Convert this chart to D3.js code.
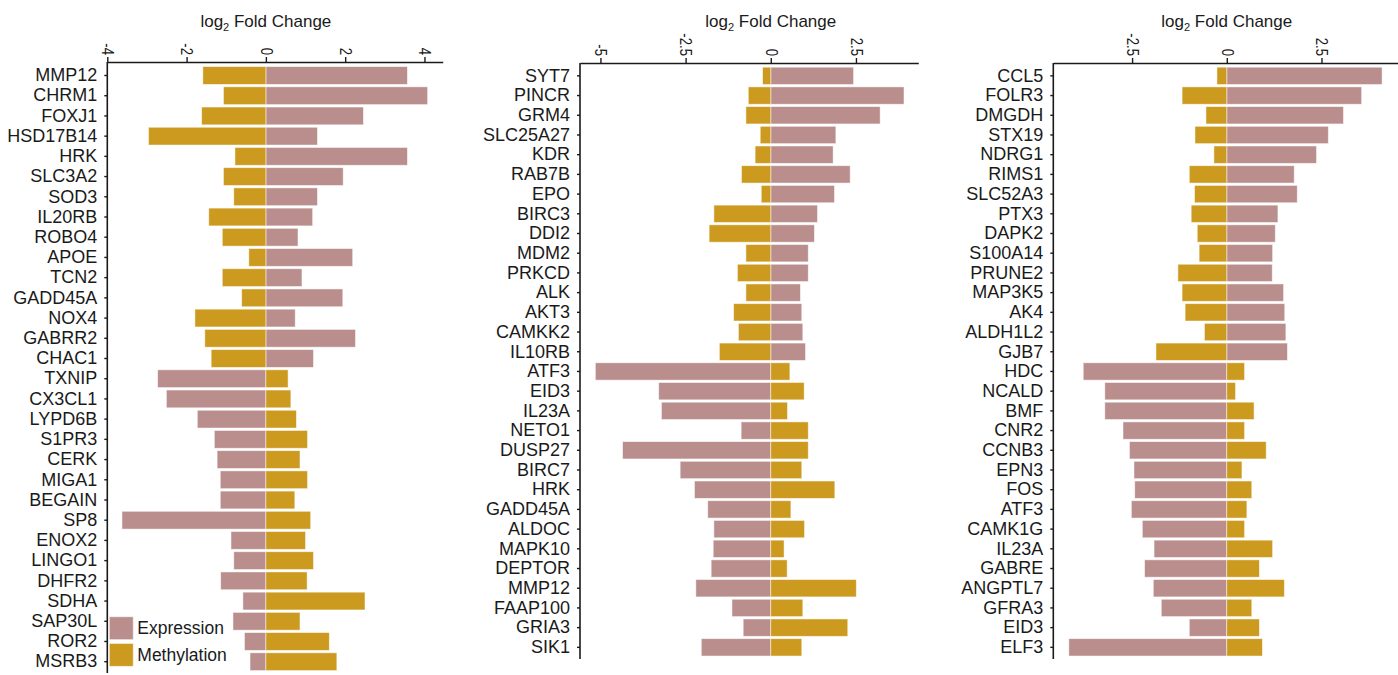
<!DOCTYPE html>
<html>
    <head>
        <meta charset="utf-8">
        <title>log2 Fold Change</title>
        <script type="text/javascript" src="https://cdn.jsdelivr.net/npm/d3@7"></script>
        <style>
            body { margin: 0; background: white; }
            text { font-family: "Liberation Sans", Arial, sans-serif; fill: #1a1a1a; }
        </style>
    </head>
    <body>
        <div class="div_d3"></div>

        <script type="text/javascript">
            // panel 1
            var genes1 = ['MMP12', 'CHRM1', 'FOXJ1', 'HSD17B14', 'HRK', 'SLC3A2', 'SOD3', 'IL20RB', 'ROBO4', 'APOE',
                'TCN2', 'GADD45A', 'NOX4', 'GABRR2', 'CHAC1', 'TXNIP', 'CX3CL1', 'LYPD6B', 'S1PR3', 'CERK',
                'MIGA1', 'BEGAIN', 'SP8', 'ENOX2', 'LINGO1', 'DHFR2', 'SDHA', 'SAP30L', 'ROR2', 'MSRB3'];
            var expr1 = [3.57, 4.08, 2.46, 1.30, 3.57, 1.95, 1.30, 1.18, 0.81, 2.19,
                0.91, 1.94, 0.74, 2.26, 1.20, -2.73, -2.51, -1.73, -1.30, -1.23,
                -1.15, -1.15, -3.63, -0.88, -0.81, -1.14, -0.58, -0.83, -0.54, -0.40];
            var meth1 = [-1.59, -1.07, -1.62, -2.96, -0.78, -1.07, -0.81, -1.44, -1.10, -0.43,
                -1.10, -0.61, -1.79, -1.54, -1.38, 0.56, 0.63, 0.77, 1.05, 0.86,
                1.05, 0.73, 1.13, 1.00, 1.20, 1.04, 2.50, 0.86, 1.60, 1.79];
            var ticks1 = [-4, -2, 0, 2, 4];

            // panel 2
            var genes2 = ['SYT7', 'PINCR', 'GRM4', 'SLC25A27', 'KDR', 'RAB7B', 'EPO', 'BIRC3', 'DDI2', 'MDM2',
                'PRKCD', 'ALK', 'AKT3', 'CAMKK2', 'IL10RB', 'ATF3', 'EID3', 'IL23A', 'NETO1', 'DUSP27',
                'BIRC7', 'HRK', 'GADD45A', 'ALDOC', 'MAPK10', 'DEPTOR', 'MMP12', 'FAAP100', 'GRIA3', 'SIK1'];
            var expr2 = [2.43, 3.91, 3.21, 1.91, 1.83, 2.33, 1.87, 1.37, 1.28, 1.10,
                1.10, 0.87, 0.91, 0.94, 1.02, -5.15, -3.29, -3.21, -0.87, -4.35,
                -2.66, -2.24, -1.85, -1.67, -1.69, -1.75, -2.20, -1.14, -0.81, -2.04];
            var meth2 = [-0.24, -0.66, -0.73, -0.31, -0.46, -0.86, -0.28, -1.67, -1.81, -0.73,
                -0.98, -0.73, -1.09, -0.95, -1.51, 0.56, 0.98, 0.49, 1.10, 1.10,
                0.91, 1.88, 0.59, 0.99, 0.39, 0.48, 2.51, 0.94, 2.26, 0.91];
            var ticks2 = [-5, -2.5, 0, 2.5];

            // panel 3
            var genes3 = ['CCL5', 'FOLR3', 'DMGDH', 'STX19', 'NDRG1', 'RIMS1', 'SLC52A3', 'PTX3', 'DAPK2', 'S100A14',
                'PRUNE2', 'MAP3K5', 'AK4', 'ALDH1L2', 'GJB7', 'HDC', 'NCALD', 'BMF', 'CNR2', 'CCNB3',
                'EPN3', 'FOS', 'ATF3', 'CAMK1G', 'IL23A', 'GABRE', 'ANGPTL7', 'GFRA3', 'EID3', 'ELF3'];
            var expr3 = [4.10, 3.56, 3.08, 2.68, 2.37, 1.78, 1.86, 1.35, 1.28, 1.21,
                1.20, 1.50, 1.53, 1.56, 1.60, -3.79, -3.22, -3.22, -2.74, -2.57,
                -2.45, -2.43, -2.52, -2.23, -1.92, -2.17, -1.94, -1.73, -0.99, -4.17];
            var meth3 = [-0.26, -1.18, -0.55, -0.84, -0.34, -0.99, -0.85, -0.94, -0.78, -0.73,
                -1.29, -1.18, -1.10, -0.59, -1.87, 0.47, 0.23, 0.72, 0.47, 1.04,
                0.40, 0.66, 0.53, 0.47, 1.21, 0.86, 1.52, 0.66, 0.86, 0.94];
            var ticks3 = [-2.5, 0, 2.5];

            var exprColor = '#bb8e8e';
            var methColor = '#cc9a1f';

            let width = 1398;
            let height = 675;

            let svg = d3.select('.div_d3')
                .append('svg')
                    .attr('width', width)
                    .attr('height', height);

            // layout of each panel: x domain / pixel range, band range for rows
            var panels = [
                { genes: genes1, expr: expr1, meth: meth1, ticks: ticks1,
                  dom: [-4, 4.46], left: 107.3, right: 442.7, top: 62, bottom: 673, rows: [65.4, 671.8] },
                { genes: genes2, expr: expr2, meth: meth2, ticks: ticks2,
                  dom: [-5.6, 4.33], left: 580, right: 918.3, top: 63, bottom: 659, rows: [66, 657.2] },
                { genes: genes3, expr: expr3, meth: meth3, ticks: ticks3,
                  dom: [-4.58, 4.52], left: 1053.3, right: 1398, top: 63, bottom: 659, rows: [66, 657.2] }
            ];

            panels.forEach(p => {
                let x = d3.scaleLinear().domain(p.dom).range([p.left, p.right]);
                let y = d3.scaleBand().domain(p.genes).range(p.rows)
                    .paddingInner(0.12).paddingOuter(0.06);
                let g = svg.append('g');

                let rows = p.genes.map((d, i) => ({ gene: d, expr: p.expr[i], meth: p.meth[i] }));

                ['expr', 'meth'].forEach(k => {
                    g.selectAll('rect.' + k)
                        .data(rows)
                        .enter()
                        .append('rect')
                            .attr('class', k)
                            .attr('x', d => x(Math.min(0, d[k])))
                            .attr('y', d => y(d.gene))
                            .attr('width', d => Math.abs(x(d[k]) - x(0)))
                            .attr('height', y.bandwidth())
                            .attr('fill', k == 'expr' ? exprColor : methColor)
                            .attr('stroke', '#fff')
                            .attr('stroke-opacity', 0.6)
                            .attr('stroke-width', 0.8);
                });

                // top axis
                let xAxis = g.append('g')
                    .attr('transform', `translate(0,${p.top})`)
                    .call(d3.axisTop(x).tickValues(p.ticks).tickSize(5).tickSizeOuter(0).tickFormat(d => d));
                xAxis.select('.domain').attr('stroke', '#1a1a1a').attr('stroke-width', 1.6);
                xAxis.selectAll('.tick line').attr('stroke', '#1a1a1a').attr('stroke-width', 1.4);
                xAxis.selectAll('.tick text')
                    .attr('x', 0)
                    .attr('y', 0)
                    .attr('dy', '0.35em')
                    .attr('text-anchor', 'end')
                    .attr('transform', 'translate(0,-7) rotate(90) scale(0.8,1)')
                    .style('font-size', '16.5px')
                    .style('font-family', '"Liberation Sans", Arial, sans-serif')
                    .attr('fill', '#1a1a1a');

                // left axis
                let yAxis = g.append('g')
                    .attr('transform', `translate(${p.left},0)`)
                    .call(d3.axisLeft(y).tickSize(3).tickPadding(7));
                yAxis.select('.domain').remove();
                yAxis.selectAll('.tick line').attr('stroke', '#1a1a1a').attr('stroke-width', 1.4);
                yAxis.selectAll('.tick text')
                    .style('font-size', '18px')
                    .style('font-family', '"Liberation Sans", Arial, sans-serif')
                    .attr('fill', '#1a1a1a');
                g.append('line')
                    .attr('x1', p.left).attr('x2', p.left)
                    .attr('y1', p.top).attr('y2', p.bottom)
                    .attr('stroke', '#1a1a1a')
                    .attr('stroke-width', 1.6);

                // axis title
                let title = g.append('text')
                    .attr('x', x(0))
                    .attr('y', 27)
                    .attr('text-anchor', 'middle')
                    .style('font-size', '17px');
                title.append('tspan').text('log');
                title.append('tspan').text('2').attr('dy', 4).style('font-size', '11px');
                title.append('tspan').text(' Fold Change').attr('dy', -4);
            });

            // legend
            var legendKeys = ['Expression', 'Methylation'];
            var legendColors = [exprColor, methColor];
            let legend = svg.append('g').attr('transform', 'translate(109.3,616.7)');
            legend.selectAll('rect')
                .data(legendKeys)
                .enter()
                .append('rect')
                    .attr('x', 0)
                    .attr('y', (d, i) => i * 26.7)
                    .attr('width', 24)
                    .attr('height', 23)
                    .attr('fill', (d, i) => legendColors[i])
                    .attr('stroke', '#fff')
                    .attr('stroke-opacity', 0.6);
            legend.selectAll('text')
                .data(legendKeys)
                .enter()
                .append('text')
                    .attr('x', 28)
                    .attr('y', (d, i) => 17.6 + i * 26.7)
                    .style('font-size', '17.5px')
                    .text(d => d);
        </script>
    </body>
</html>
